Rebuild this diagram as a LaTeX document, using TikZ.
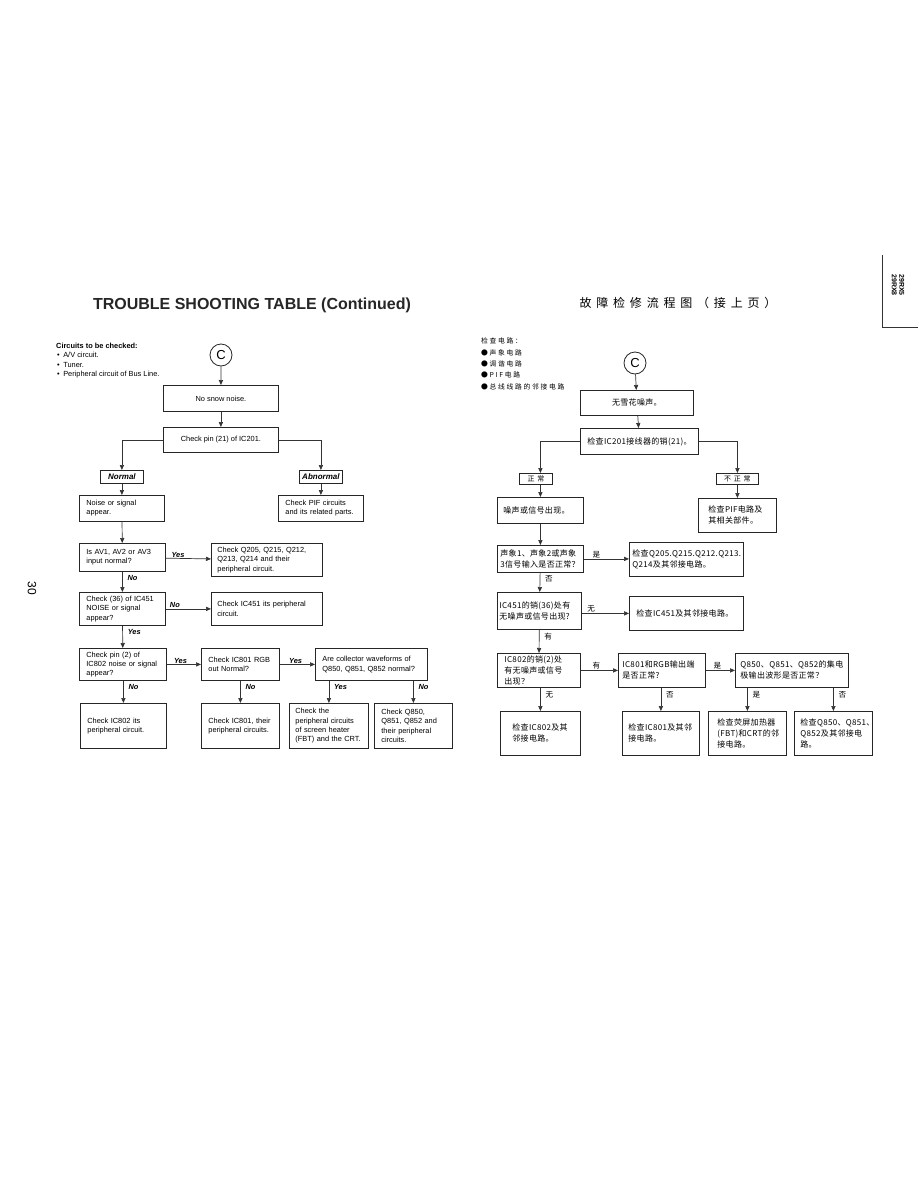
\documentclass[tikz,border=0pt]{standalone}
\usepackage{fontspec}
\setmainfont{Liberation Sans}
\newfontfamily\cjk[LetterSpace=4]{Noto Sans CJK SC}
\newfontfamily\cjkwide[LetterSpace=25]{Noto Sans CJK SC}
\newfontfamily\cjkttl[LetterSpace=40]{Noto Sans CJK SC}
\usetikzlibrary{arrows.meta}
\tikzset{
  box/.style={draw=black!85,line width=0.8pt,anchor=north west,align=left,inner xsep=7pt,inner ysep=1pt,font=\fontsize{7.4}{9.3}\selectfont},
  cbox/.style={box,font=\cjk\fontsize{8}{11}\selectfont},
  tag/.style={draw=black!85,line width=0.8pt,anchor=north west,inner sep=0pt,font=\bfseries\itshape\fontsize{8}{8}\selectfont},
  ctag/.style={tag,font=\cjkttl\fontsize{7}{8}\selectfont},
  yn/.style={font=\bfseries\itshape\fontsize{7.4}{8}\selectfont,inner sep=0.8pt},
  cyn/.style={font=\cjk\fontsize{7.6}{8}\selectfont,inner sep=0.8pt},
  line/.style={draw=black!80,line width=0.7pt},
  startmark/.style={circle,draw=black!85,line width=0.8pt,minimum size=22pt,inner sep=0pt,font=\fontsize{13}{13}\selectfont}
}
\begin{document}
\begin{tikzpicture}[x=1pt,y=-1pt,>={Triangle[length=5pt,width=4.2pt]}]
  \fill[white] (0,0) rectangle (918,1188);
  \useasboundingbox (0,0) rectangle (918,1188);

  % page furniture
  \node[font=\bfseries\fontsize{16}{18}\selectfont,text=black!85] (title) at (252,305) {TROUBLE SHOOTING TABLE (Continued)};
  \node[font=\cjkttl\fontsize{12}{13}\selectfont] (titlecn) at (678,303) {故障检修流程图（接上页）};
  \node[rotate=-90,font=\fontsize{12}{12}\selectfont] (pageno) at (32,588) {30};
  \node[rotate=-90,align=center,font=\bfseries\fontsize{7}{7.5}\selectfont] (model) at (898,285) {29RX5\\29RX8};
  \draw[line,line width=0.8pt] (882,255) -- (882,327) -- (918,327);

  % ---- English chart ----
  \node[anchor=north west,align=left,inner sep=0pt,font=\fontsize{7.4}{9.3}\selectfont] (list) at (56,343)
    {\textbf{Circuits to be checked:}\\
     \hspace*{1pt}\textbullet\hspace{3.5pt}A/V circuit.\\
     \hspace*{1pt}\textbullet\hspace{3.5pt}Tuner.\\
     \hspace*{1pt}\textbullet\hspace{3.5pt}Peripheral circuit of Bus Line.};
  \node[startmark] (cl) at (221,355) {C};

  \node[box,minimum width=115pt,minimum height=26pt] (b1) at (163,385) {No snow noise.};
  \node[box,minimum width=115pt,minimum height=25pt] (b2) at (163,427) {Check pin (21) of IC201.};
  \node[tag,minimum width=43pt,minimum height=13pt] (nrm) at (100,470) {Normal};
  \node[tag,minimum width=43pt,minimum height=13pt] (abn) at (299,470) {Abnormal};
  \node[box,text width=71pt,minimum height=26pt] (b3) at (79,495) {Noise or signal\\appear.};
  \node[box,text width=71pt,minimum height=26pt] (b4) at (278,495) {Check PIF circuits\\and its related parts.};
  \node[box,text width=72pt,minimum height=28pt] (b5) at (79,543) {Is AV1, AV2 or AV3\\input normal?};
  \node[box,inner xsep=6pt,text width=99pt,minimum height=33pt] (b6) at (211,543) {Check Q205, Q215, Q212,\\Q213, Q214 and their\\peripheral circuit.};
  \node[box,text width=72pt,minimum height=33pt] (b7) at (79,592) {Check (36) of IC451\\NOISE or signal\\appear?};
  \node[box,inner xsep=6pt,text width=99pt,minimum height=33pt] (b8) at (211,592) {Check IC451 its peripheral\\circuit.};
  \node[box,text width=73pt,minimum height=32pt] (b9) at (79,648) {Check pin (2) of\\IC802 noise or signal\\appear?};
  \node[box,text width=64pt,minimum height=32pt] (b10) at (201,648) {Check IC801 RGB\\out Normal?};
  \node[box,text width=98pt,minimum height=32pt] (b11) at (315,648) {Are collector waveforms of\\Q850, Q851, Q852 normal?};
  \node[box,text width=72pt,minimum height=45pt] (b12) at (80,703) {Check IC802 its\\peripheral circuit.};
  \node[box,text width=64pt,minimum height=45pt] (b13) at (201,703) {Check IC801, their\\peripheral circuits.};
  \node[box,inner xsep=6pt,text width=67pt,minimum height=45pt] (b14) at (289,703) {Check the\\peripheral circuits\\of screen heater\\(FBT) and the CRT.};
  \node[box,text width=64pt,minimum height=45pt] (b15) at (374,703) {Check Q850,\\Q851, Q852 and\\their peripheral\\circuits.};

  \draw[line,->] (cl) -- (b1);
  \draw[line,->] (b1) -- (b2);
  \draw[line,->] (b2.west) -| (nrm.north);
  \draw[line,->] (b2.east) -| (abn.north);
  \draw[line,->] (nrm) -- (b3);
  \draw[line,->] (abn) -- (b4);
  \draw[line,->] (b3) -- (b5);
  \draw[line,->] (b5) -- node[yn,above,pos=0.27]{Yes} (b6);
  \draw[line,->] (b5) -- node[yn,right=4pt,pos=0.3]{No} (b7);
  \draw[line,->] (b7) -- node[yn,above,pos=0.2]{No} (b8);
  \draw[line,->] (b7) -- node[yn,right=4pt,pos=0.3]{Yes} (b9);
  \draw[line,->] (b9) -- node[yn,above,pos=0.4]{Yes} (b10);
  \draw[line,->] (b10) -- node[yn,above,pos=0.45]{Yes} (b11);
  \draw[line,->] (b9.south -| b12.north) -- node[yn,right=4pt,pos=0.3]{No} (b12.north);
  \draw[line,->] (b10.south) -- node[yn,right=4pt,pos=0.3]{No} (b10.south |- b13.north);
  \draw[line,->] (b11.south -| b14.north) -- node[yn,right=4pt,pos=0.3]{Yes} (b14.north);
  \draw[line,->] (b11.south -| b15.north) -- node[yn,right=4pt,pos=0.3]{No} (b15.north);

  % ---- Chinese chart ----
  \node[anchor=north west,align=left,inner sep=0pt,font=\cjkwide\fontsize{6.8}{11.3}\selectfont] (listcn) at (481,338)
    {检查电路：\\●声象电路\\●调谐电路\\●PIF电路\\●总线线路的邻接电路};
  \node[startmark] (cr) at (635,363) {C};

  \node[cbox,minimum width=113pt,minimum height=25pt] (r1) at (580,390) {无雪花噪声。};
  \node[cbox,minimum width=113pt,minimum height=26pt] (r2) at (580,428) {检查IC201接线器的销(21)。};
  \node[ctag,minimum width=33pt,minimum height=11pt] (rn) at (519,473) {正常};
  \node[ctag,minimum width=42pt,minimum height=11pt] (ra) at (716,473) {不正常};
  \node[cbox,inner xsep=6pt,text width=74pt,minimum height=26pt] (r3) at (497,497) {噪声或信号出现。};
  \node[cbox,inner xsep=10pt,text width=58pt,minimum height=34pt] (r4) at (698,498) {检查PIF电路及\\其相关部件。};
  \node[cbox,inner xsep=3pt,text width=80pt,minimum height=27pt] (r5) at (497,545) {声象1、声象2或声象\\3信号输入是否正常？};
  \node[cbox,inner xsep=3pt,text width=108pt,minimum height=34pt] (r6) at (629,542) {检查Q205.Q215.Q212.Q213.\\Q214及其邻接电路。};
  \node[cbox,inner xsep=2pt,text width=80pt,minimum height=37pt] (r7) at (497,592) {IC451的销(36)处有\\无噪声或信号出现?};
  \node[cbox,inner xsep=7pt,text width=100pt,minimum height=34pt] (r8) at (629,596) {检查IC451及其邻接电路。};
  \node[cbox,inner xsep=7pt,text width=69pt,minimum height=34pt] (r9) at (497,653) {IC802的销(2)处\\有无噪声或信号\\出现？};
  \node[cbox,inner xsep=4pt,text width=79pt,minimum height=34pt] (r10) at (618,653) {IC801和RGB输出端\\是否正常?};
  \node[cbox,inner xsep=5pt,text width=103pt,minimum height=34pt] (r11) at (735,653) {Q850、Q851、Q852的集电\\极输出波形是否正常？};
  \node[cbox,inner xsep=12pt,text width=56pt,minimum height=44pt] (r12) at (500,711) {检查IC802及其\\邻接电路。};
  \node[cbox,inner xsep=6pt,text width=65pt,minimum height=44pt] (r13) at (622,711) {检查IC801及其邻\\接电路。};
  \node[cbox,inner xsep=9pt,text width=60pt,minimum height=44pt] (r14) at (708,711) {检查荧屏加热器\\(FBT)和CRT的邻\\接电路。};
  \node[cbox,inner xsep=6pt,text width=66pt,minimum height=44pt] (r15) at (794,711) {检查Q850、Q851、\\Q852及其邻接电\\路。};

  \draw[line,->] (cr) -- (r1);
  \draw[line,->] (r1) -- (r2);
  \draw[line,->] (r2.west) -| (rn.north -| r3.north);
  \draw[line,->] (r2.east) -| (ra.north);
  \draw[line,->] (rn.south -| r3.north) -- (r3.north);
  \draw[line,->] (ra) -- (r4);
  \draw[line,->] (r3) -- (r5);
  \draw[line,->] (r5) -- node[cyn,above,pos=0.28]{是} (r5.east -| r6.west);
  \draw[line,->] (r5) -- node[cyn,right=4pt,pos=0.3]{否} (r7);
  \draw[line,->] (r7.east |- r8.west) -- node[cyn,above,pos=0.2]{无} (r8.west);
  \draw[line,->] (r7) -- node[cyn,right=4pt,pos=0.3]{有} (r9);
  \draw[line,->] (r9) -- node[cyn,above,pos=0.42]{有} (r9.east -| r10.west);
  \draw[line,->] (r10) -- node[cyn,above,pos=0.4]{是} (r11);
  \draw[line,->] (r9.south -| r12.north) -- node[cyn,right=4pt,pos=0.3]{无} (r12.north);
  \draw[line,->] (r10.south -| r13.north) -- node[cyn,right=4pt,pos=0.3]{否} (r13.north);
  \draw[line,->] (r11.south -| r14.north) -- node[cyn,right=4pt,pos=0.3]{是} (r14.north);
  \draw[line,->] (r11.south -| r15.north) -- node[cyn,right=4pt,pos=0.3]{否} (r15.north);
\end{tikzpicture}
\end{document}
